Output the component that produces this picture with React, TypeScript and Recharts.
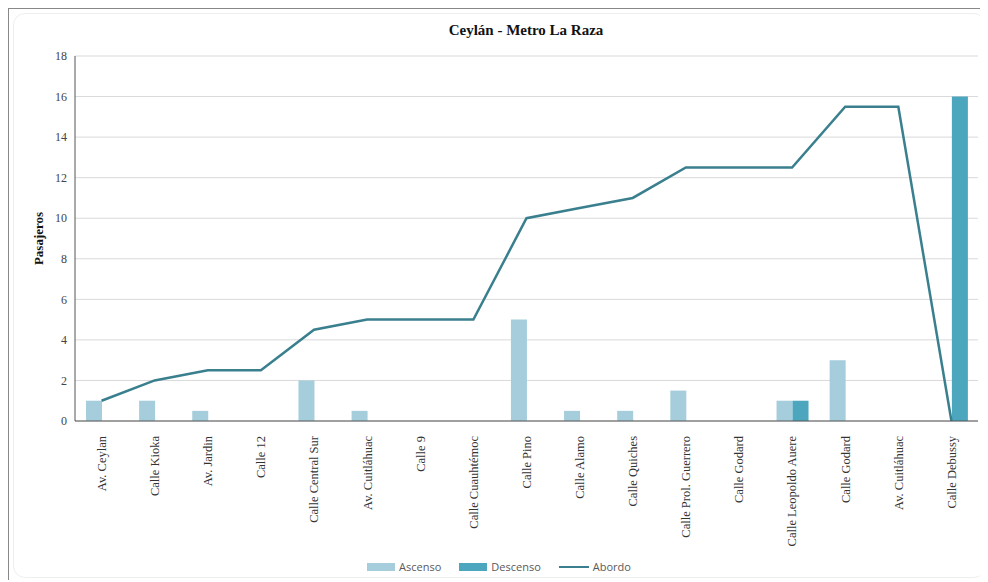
import { Bar, CartesianGrid, ComposedChart, Legend, Line, XAxis, YAxis } from "recharts";

const paradas = [
  "Av. Ceylan", "Calle Kioka", "Av. Jardin", "Calle 12", "Calle Central Sur",
  "Av. Cuitláhuac", "Calle 9", "Calle Cuauhtémoc", "Calle Pino", "Calle Alamo",
  "Calle Quiches", "Calle Prol. Guerrero", "Calle Godard", "Calle Leopoldo  Auere",
  "Calle Godard", "Av. Cuitláhuac", "Calle Debussy"
];
const ascenso = [1, 1, 0.5, 0, 2, 0.5, 0, 0, 5, 0.5, 0.5, 1.5, 0, 1, 3, 0, 0];
const descenso = [0, 0, 0, 0, 0, 0, 0, 0, 0, 0, 0, 0, 0, 1, 0, 0, 16];
const abordo = [1, 2, 2.5, 2.5, 4.5, 5, 5, 5, 10, 10.5, 11, 12.5, 12.5, 12.5, 15.5, 15.5, 0];
const yTicks = [0, 2, 4, 6, 8, 10, 12, 14, 16, 18];
const legendOrder = ["Ascenso", "Descenso", "Abordo"];

const data = paradas.map((p, i) => ({
  id: i,
  parada: p,
  Ascenso: ascenso[i],
  Descenso: descenso[i],
  Abordo: abordo[i]
}));

const serif = "'Liberation Serif', 'Times New Roman', serif";

function StopTick({ x, y, payload }: any) {
  return (
    <g transform={`translate(${x},${y})`}>
      <text
        transform="rotate(-90)"
        x={-7}
        y={0}
        dy="0.35em"
        textAnchor="end"
        fontFamily={serif}
        fontSize={12.5}
        fill="#333"
      >
        {paradas[payload.value]}
      </text>
    </g>
  );
}

function LegendBox({ payload }: any) {
  const items = [...(payload || [])].sort(
    (a: any, b: any) => legendOrder.indexOf(a.value) - legendOrder.indexOf(b.value)
  );
  return (
    <div style={{ display: "flex", justifyContent: "center", gap: 18, fontFamily: "'Open Sans', sans-serif", fontSize: 11, color: "#595959" }}>
      {items.map((e: any) => (
        <div key={e.value} style={{ display: "flex", alignItems: "center", gap: 4 }}>
          {e.type === "line" ? (
            <span style={{ width: 30, height: 2, background: e.color, display: "inline-block" }} />
          ) : (
            <span style={{ width: 28, height: 8, background: e.color, display: "inline-block" }} />
          )}
          <span>{e.value}</span>
        </div>
      ))}
    </div>
  );
}

export default function App() {
  return (
    <div style={{ position: "relative", width: 980, height: 572, borderTop: "1px solid #888", borderLeft: "1px solid #888", boxSizing: "border-box" }}>
      <div style={{ position: "absolute", left: 4, top: 4, right: 2, bottom: 2, border: "1px solid #eee", borderRadius: 12 }} />
      <div style={{ position: "absolute", left: 0, width: 1034, top: 13, textAlign: "center", fontFamily: serif, fontWeight: "bold", fontSize: 15, color: "#111" }}>
        Ceylán - Metro La Raza
      </div>
      <div style={{ position: "absolute", left: -1, top: -1 }}>
        <ComposedChart
          width={980}
          height={572}
          data={data}
          margin={{ top: 48, right: 10, left: 12, bottom: 6 }}
          barGap={0}
        >
          <CartesianGrid vertical={false} stroke="#d9d9d9" />
          <XAxis
            dataKey="id"
            interval={0}
            tick={<StopTick />}
            tickLine={false}
            axisLine={{ stroke: "#555" }}
            height={138}
          />
          <YAxis
            domain={[0, 18]}
            ticks={yTicks}
            width={55}
            tickLine={false}
            axisLine={{ stroke: "#555" }}
            tick={{ fontFamily: serif, fontSize: 12, fill: "#444" }}
            label={{ value: "Pasajeros", angle: -90, position: "insideLeft", offset: 18, style: { textAnchor: "middle", fontFamily: serif, fontWeight: "bold", fontSize: 13, fill: "#111" } }}
          />
          <Legend content={<LegendBox />} verticalAlign="bottom" />
          <Bar dataKey="Ascenso" fill="#a5cddb" barSize={16} legendType="rect" isAnimationActive={false} />
          <Bar dataKey="Descenso" fill="#4ba6be" barSize={16} legendType="rect" isAnimationActive={false} />
          <Line dataKey="Abordo" type="linear" stroke="#3a7f8e" strokeWidth={2.5} dot={false} legendType="line" isAnimationActive={false} />
        </ComposedChart>
      </div>
    </div>
  );
}
